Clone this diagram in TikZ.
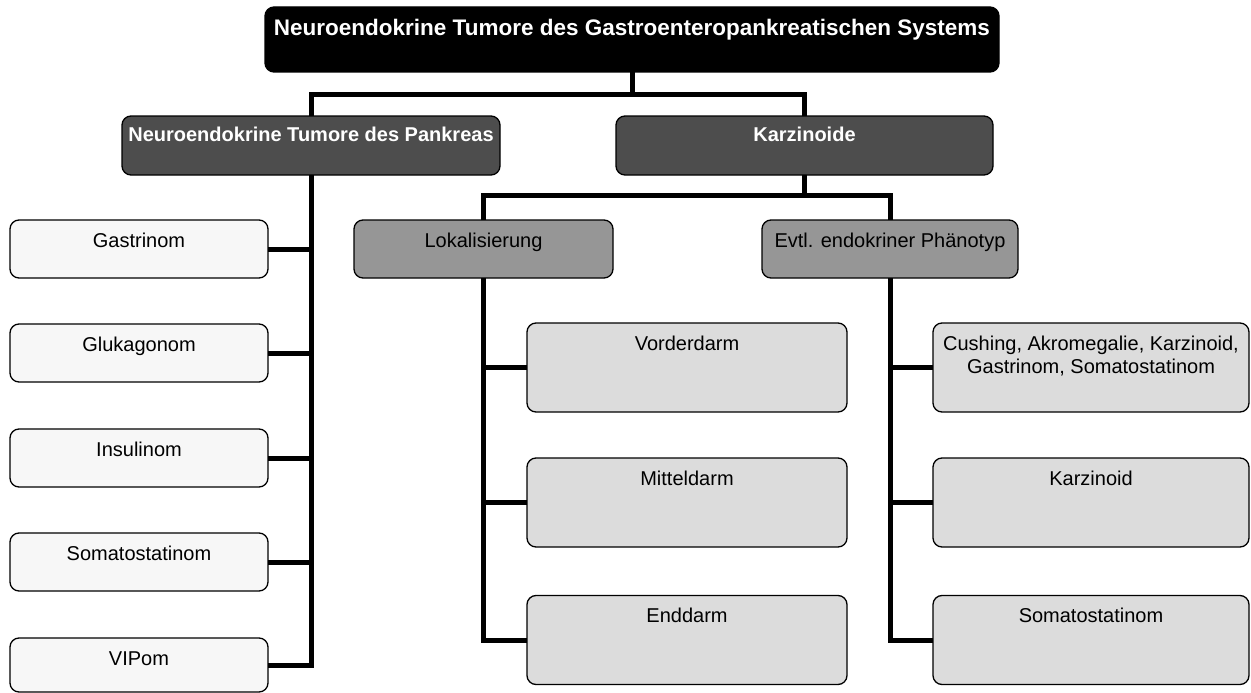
\documentclass[tikz,border=0pt]{standalone}
\usepackage{fontspec}
\setmainfont{Liberation Sans}
\definecolor{darkbox}{HTML}{4D4D4D}
\definecolor{midbox}{HTML}{969696}
\definecolor{lightbox}{HTML}{DCDCDC}
\definecolor{paperbox}{HTML}{F7F7F7}
\begin{document}
\begin{tikzpicture}[x=1pt,y=-1pt,
  box/.style={draw=black, line width=1.3pt, rounded corners=9pt, inner sep=0pt, outer sep=0pt},
  conn/.style={line width=5pt, draw=black, line join=miter},
  txt/.style={font=\fontsize{20}{24}\selectfont, anchor=base, inner sep=0pt},
  btxt/.style={font=\fontsize{20}{24}\selectfont\bfseries, anchor=base, inner sep=0pt, text=white}]
\useasboundingbox (0,0) rectangle (1251,693);

% boxes
\node[box, fill=black, minimum width=734pt, minimum height=65pt] (title) at (632,39.5) {};
\node[box, fill=darkbox, minimum width=378pt, minimum height=59pt] (pan) at (311,145.5) {};
\node[box, fill=darkbox, minimum width=377pt, minimum height=59pt] (karz) at (804.5,145.5) {};

\node[box, fill=paperbox, minimum width=258pt, minimum height=58pt] (g1) at (139,249) {};
\node[box, fill=paperbox, minimum width=258pt, minimum height=58pt] (g2) at (139,353) {};
\node[box, fill=paperbox, minimum width=258pt, minimum height=58pt] (g3) at (139,458) {};
\node[box, fill=paperbox, minimum width=258pt, minimum height=58pt] (g4) at (139,562) {};
\node[box, fill=paperbox, minimum width=258pt, minimum height=54pt] (g5) at (139,665) {};

\node[box, fill=midbox, minimum width=259pt, minimum height=58pt] (lok) at (483.5,249) {};
\node[box, fill=midbox, minimum width=256pt, minimum height=58pt] (evtl) at (890,249) {};

\node[box, fill=lightbox, minimum width=320pt, minimum height=89pt] (m1) at (687,367.5) {};
\node[box, fill=lightbox, minimum width=320pt, minimum height=89pt] (m2) at (687,502.5) {};
\node[box, fill=lightbox, minimum width=320pt, minimum height=89pt] (m3) at (687,640) {};

\node[box, fill=lightbox, minimum width=316pt, minimum height=89pt] (r1) at (1091,367.5) {};
\node[box, fill=lightbox, minimum width=316pt, minimum height=89pt] (r2) at (1091,502.5) {};
\node[box, fill=lightbox, minimum width=316pt, minimum height=89pt] (r3) at (1091,640) {};

% connectors
\coordinate (j1) at (632,95);
\coordinate (j2) at (804.5,195);
\draw[conn] (title.south) -- (j1);
\draw[conn] (pan.north) |- (j1) -| (karz.north);
\draw[conn] (karz.south) -- (j2);
\draw[conn] (lok.north) |- (j2) -| (evtl.north);

\draw[conn] (pan.south) |- (g5.east);
\foreach \n in {g1,g2,g3,g4}{\draw[conn] (\n.east) -- (\n.east -| pan.south);}

\draw[conn] (lok.south) |- (m3.west);
\foreach \n in {m1,m2}{\draw[conn] (\n.west) -- (\n.west -| lok.south);}

\draw[conn] (evtl.south) |- (r3.west);
\foreach \n in {r1,r2}{\draw[conn] (\n.west) -- (\n.west -| evtl.south);}

% texts
\node[btxt, font=\fontsize{22.5}{26}\selectfont\bfseries] (tT) at ([yshift=-29pt]title.north) {Neuroendokrine Tumore des Gastroenteropankreatischen Systems};
\node[btxt] (tP) at ([yshift=-25pt]pan.north) {Neuroendokrine Tumore des Pankreas};
\node[btxt] (tK) at ([yshift=-25pt]karz.north) {Karzinoide};

\node[txt] (tg1) at ([yshift=-27pt]g1.north) {Gastrinom};
\node[txt] (tg2) at ([yshift=-27pt]g2.north) {Glukagonom};
\node[txt] (tg3) at ([yshift=-27pt]g3.north) {Insulinom};
\node[txt] (tg4) at ([yshift=-27pt]g4.north) {Somatostatinom};
\node[txt] (tg5) at ([yshift=-27pt]g5.north) {VIPom};

\node[txt] (tL) at ([yshift=-27pt]lok.north) {Lokalisierung};
\node[txt] (tE) at ([yshift=-27pt]evtl.north) {Evtl. endokriner Phänotyp};

\node[txt] (tm1) at ([yshift=-27pt]m1.north) {Vorderdarm};
\node[txt] (tm2) at ([yshift=-27pt]m2.north) {Mitteldarm};
\node[txt] (tm3) at ([yshift=-27pt]m3.north) {Enddarm};

\node[txt, anchor=north, align=center] (tr1) at ([yshift=-12.5pt]r1.north) {Cushing, Akromegalie, Karzinoid,\\[-0.5pt]Gastrinom, Somatostatinom};
\node[txt] (tr2) at ([yshift=-27pt]r2.north) {Karzinoid};
\node[txt] (tr3) at ([yshift=-27pt]r3.north) {Somatostatinom};
\end{tikzpicture}
\end{document}
